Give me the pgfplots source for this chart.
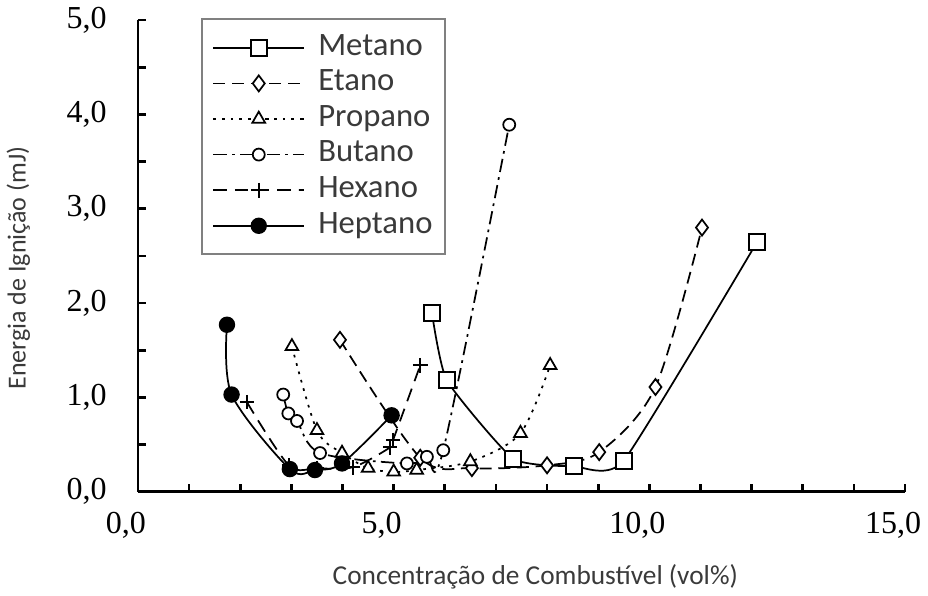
\documentclass[border=0pt]{standalone}
\usepackage{pgfplots}
\pgfplotsset{compat=1.18}
\usepackage{fontspec}
\setmainfont{Liberation Serif}
\newfontfamily\calibri{Carlito}
\usetikzlibrary{calc}
\definecolor{labelgray}{HTML}{3A3A3A}
\begin{document}
\begin{tikzpicture}
\begin{axis}[
  scale only axis,
  width=575.25pt, height=353.8pt,
  xmin=0, xmax=15, ymin=0, ymax=5,
  axis lines=left,
  axis line style={line width=2.2pt, -},
  xtick={0,5,10,15}, minor x tick num=4,
  ytick={0,1,2,3,4,5}, minor y tick num=1,
  tick align=inside,
  major tick length=6pt, minor tick length=6pt,
  every tick/.style={line width=2pt, black},
  /pgf/number format/.cd, fixed, fixed zerofill, precision=1, use comma, assume math mode=true,
  /pgfplots/.cd,
  tick label style={font=\fontsize{24}{24}\selectfont},
  xticklabel style={yshift=-12pt, xshift=-9pt},
  yticklabel style={xshift=-20pt},
  xlabel={Concentração de Combustível (vol\%)},
  ylabel={Energia de Ignição (mJ)},
  every axis x label/.style={at={(axis description cs:0.518,-0.181)}, anchor=center, font=\calibri\fontsize{20.5}{20.5}\selectfont, text=labelgray},
  every axis y label/.style={at={(axis description cs:-0.156,0.474)}, rotate=90, anchor=center, font=\calibri\fontsize{19.5}{19.5}\selectfont, text=labelgray},
  legend image code/.code={\draw[mark repeat=2, mark phase=2] plot coordinates {(0pt,0pt) (34pt,0pt) (68pt,0pt)};},
  legend style={at={(axis description cs:0.082,1.004)}, anchor=north west, draw=gray, line width=1.5pt, fill=white,
    font=\calibri\fontsize{24.5}{24.5}\selectfont, text=labelgray, inner xsep=8pt, inner ysep=10pt,
    nodes={inner sep=1pt, text height=16pt, text depth=5pt}, row sep=3.7pt, column sep=9pt,
    column 2/.style={text width=92pt}},
  legend cell align=left,
  clip=false,
]
\addplot[black, line width=1.3pt, smooth, tension=0.3, mark=square*, mark size=6pt, mark options={fill=white, solid, line width=1.4pt}]
  coordinates {(5.75,1.89) (6.04,1.18) (7.34,0.35) (8.52,0.27) (9.50,0.33) (12.11,2.65)};
\addlegendentry{Metano}
\addplot[black, line width=1.3pt, smooth, tension=0.5, dash pattern=on 9pt off 5pt, mark=diamond*, mark size=6pt, mark options={fill=white, solid, line width=1.3pt}]
  coordinates {(3.95,1.61) (5.52,0.36) (6.53,0.25) (8.00,0.28) (9.02,0.42) (10.12,1.11) (11.03,2.80)};
\addlegendentry{Etano}
\addplot[black, line width=1.3pt, smooth, tension=0.5, dash pattern=on 2pt off 4.5pt, mark=triangle*, mark size=5.5pt, mark options={fill=white, solid, line width=1.3pt}]
  coordinates {(3.01,1.54) (3.50,0.65) (3.99,0.41) (4.50,0.25) (5.00,0.21) (5.45,0.23) (6.50,0.32) (7.48,0.62) (8.06,1.34)};
\addlegendentry{Propano}
\addplot[black, line width=1.3pt, smooth, tension=0.5, dash pattern=on 10pt off 4pt on 2pt off 4pt, mark=*, mark size=4.5pt, mark options={fill=white, solid, line width=1.3pt}]
  coordinates {(2.84,1.03) (2.94,0.83) (3.11,0.75) (3.56,0.41) (5.26,0.30) (5.65,0.37) (5.97,0.44) (7.26,3.89)};
\addlegendentry{Butano}
\addplot[black, line width=1.3pt, smooth, tension=0.5, dash pattern=on 10pt off 6pt, mark=+, mark size=5.5pt, mark options={solid, line width=1.5pt}]
  coordinates {(2.13,0.95) (2.95,0.28) (3.50,0.25) (4.20,0.26) (4.93,0.47) (4.99,0.55) (5.52,1.34)};
\addlegendentry{Hexano}
\addplot[black, line width=1.3pt, smooth, tension=0.5, mark=*, mark size=5.5pt, mark options={fill=black, solid}]
  coordinates {(1.74,1.77) (1.83,1.03) (2.97,0.24) (3.46,0.23) (3.99,0.30) (4.96,0.81)};
\addlegendentry{Heptano}
\end{axis}
\pgfresetboundingbox
\path[use as bounding box] ($(current axis.south west)+(-103.5pt,-78.2pt)$) rectangle ($(current axis.north east)+(17.25pt,15pt)$);
\end{tikzpicture}
\end{document}
